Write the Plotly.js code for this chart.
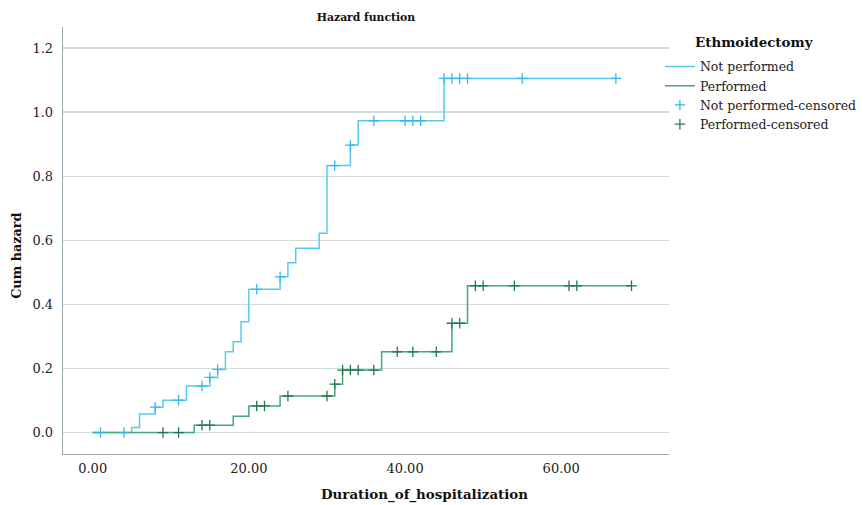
<!DOCTYPE html>
<html>
<head>
<meta charset="utf-8">
<script src="https://cdn.plot.ly/plotly-3.0.1.min.js"></script>
<style>html,body{margin:0;padding:0;background:#fff;}#chart{width:866px;height:505px;}</style>
</head>
<body>
<div id="chart"></div>
<script>
// Not performed: step times and cumulative hazard
const notPerfTime = [0, 5, 6, 8, 9, 12, 15, 16, 17, 18, 19, 20, 24, 25, 26, 29, 30, 33, 34, 45, 67];
const notPerfHaz  = [0, 0.016, 0.058, 0.079, 0.101, 0.145, 0.172, 0.197, 0.252, 0.283, 0.346, 0.447, 0.486, 0.530, 0.575, 0.622, 0.833, 0.897, 0.973, 1.105, 1.105];
// Not performed: censored
const notPerfCensTime = [1, 4, 8, 11, 14, 15, 16, 21, 24, 31, 33, 36, 40, 41, 42, 45, 46, 47, 48, 55, 67];
const notPerfCensHaz  = [0, 0, 0.079, 0.101, 0.145, 0.172, 0.197, 0.447, 0.486, 0.833, 0.897, 0.973, 0.973, 0.973, 0.973, 1.105, 1.105, 1.105, 1.105, 1.105, 1.105];
// Performed: step times and cumulative hazard
const perfTime = [0, 13, 18, 20, 24, 31, 32, 37, 46, 48, 69];
const perfHaz  = [0, 0.023, 0.051, 0.083, 0.114, 0.151, 0.195, 0.252, 0.341, 0.458, 0.458];
// Performed: censored
const perfCensTime = [9, 11, 14, 15, 21, 22, 25, 30, 31, 32, 33, 34, 36, 39, 41, 44, 46, 47, 49, 50, 54, 61, 62, 69];
const perfCensHaz  = [0, 0, 0.023, 0.023, 0.083, 0.083, 0.114, 0.114, 0.151, 0.195, 0.195, 0.195, 0.195, 0.252, 0.252, 0.252, 0.341, 0.341, 0.458, 0.458, 0.458, 0.458, 0.458, 0.458];

const seriesNames = ['Not performed', 'Performed', 'Not performed-censored', 'Performed-censored'];
const legendTitle = 'Ethmoidectomy';
const xTitle = 'Duration_of_hospitalization';
const yTitle = 'Cum hazard';
const xTickVals = [0, 20, 40, 60];
const xTickText = ['0.00', '20.00', '40.00', '60.00'];
const yTickVals = [0, 0.2, 0.4, 0.6, 0.8, 1.0, 1.2];
const yTickText = ['0.0', '0.2', '0.4', '0.6', '0.8', '1.0', '1.2'];

const blue = '#55caf2', blueDark = '#38b8ea';
const green = '#3fa97a', greenDark = '#1f7a4e';
const FONT = 'DejaVu Serif, serif';

const traces = [
  {x: notPerfTime, y: notPerfHaz, name: seriesNames[0], mode: 'lines', line: {shape: 'hv', color: blue, width: 1.5}, hoverinfo: 'skip'},
  {x: perfTime, y: perfHaz, name: seriesNames[1], mode: 'lines', line: {shape: 'hv', color: green, width: 1.5}, hoverinfo: 'skip'},
  {x: notPerfCensTime, y: notPerfCensHaz, name: seriesNames[2], mode: 'markers',
   marker: {symbol: 'cross-thin-open', size: 7.5, line: {color: blueDark, width: 1.3}, color: blueDark}, hoverinfo: 'skip'},
  {x: perfCensTime, y: perfCensHaz, name: seriesNames[3], mode: 'markers',
   marker: {symbol: 'cross-thin-open', size: 7.5, line: {color: greenDark, width: 1.3}, color: greenDark}, hoverinfo: 'skip'}
];

const layout = {
  width: 866, height: 505,
  paper_bgcolor: '#ffffff', plot_bgcolor: '#ffffff',
  margin: {l: 63, r: 197, t: 27, b: 51, pad: 0, autoexpand: false},
  font: {family: FONT, size: 12, color: '#222'},
  title: {text: '<b>Hazard function</b>', x: 0.5, xref: 'paper', y: 0.965, yref: 'container', yanchor: 'middle',
          font: {family: FONT, size: 10.8, color: '#111'}},
  xaxis: {
    range: [-3.8, 73.8], tickvals: xTickVals, ticktext: xTickText,
    showgrid: false, zeroline: false, showline: true, linecolor: '#9aabab', linewidth: 1.3,
    ticks: '', ticklabelstandoff: 2,
    tickfont: {family: FONT, size: 13, color: '#222'}
  },
  yaxis: {
    range: [-0.067, 1.2656], tickvals: yTickVals, ticktext: yTickText,
    showgrid: true, gridcolor: '#d2dcdc', gridwidth: 1.3, zeroline: false,
    showline: true, linecolor: '#9aabab', linewidth: 1.3, ticks: '', ticklabelstandoff: 6,
    tickfont: {family: FONT, size: 13, color: '#222'}
  },
  legend: {
    x: 0.985, xanchor: 'left', y: 0.942, yanchor: 'top',
    font: {family: FONT, size: 12.5, color: '#222'},
    bgcolor: 'rgba(0,0,0,0)', tracegroupgap: 0, itemwidth: 30
  },
  annotations: [
    {text: '<b>' + legendTitle + '</b>', xref: 'paper', yref: 'paper', x: 1.04, y: 0.965,
     xanchor: 'left', yanchor: 'middle', showarrow: false,
     font: {family: FONT, size: 13.4, color: '#111'}},
    {text: '<b>' + xTitle + '</b>', xref: 'paper', yref: 'paper', x: 0.597, y: -0.095,
     xanchor: 'center', yanchor: 'middle', showarrow: false,
     font: {family: FONT, size: 13.4, color: '#111'}},
    {text: '<b>' + yTitle + '</b>', xref: 'paper', yref: 'paper', x: -0.076, y: 0.464,
     xanchor: 'center', yanchor: 'middle', showarrow: false, textangle: -90,
     font: {family: FONT, size: 12.8, color: '#111'}}
  ],
  showlegend: true
};

Plotly.newPlot('chart', traces, layout, {staticPlot: true, displayModeBar: false});
</script>
</body>
</html>
